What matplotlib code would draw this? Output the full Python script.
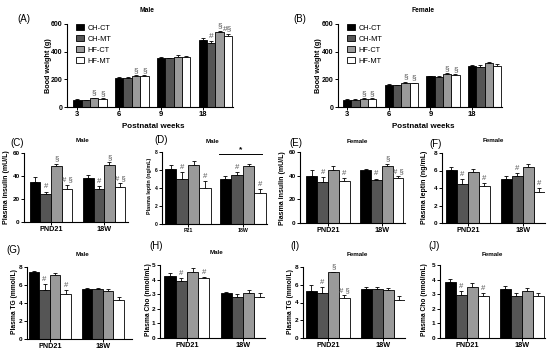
import numpy as np
import matplotlib
matplotlib.use('Agg')
import matplotlib.pyplot as plt
from matplotlib.patches import Patch

plt.rcParams['font.family'] = ['Liberation Sans', 'DejaVu Sans']
plt.rcParams['font.weight'] = 'bold'

W, H = 550, 352

groups = ['CH-CT', 'CH-MT', 'HF-CT', 'HF-MT']
colors = ['#000000', '#555555', '#9a9a9a', '#ffffff']
weeks = ['3', '6', '9', '18']
ages = ['PND21', '18W']
ages_d = ['P21', '18W']

# body weight, rows = groups, cols = weeks
bw_male = [[53, 212, 355, 484], [51, 210, 352, 466], [62, 222, 365, 540], [58, 225, 363, 512]]
bw_male_err = [[4, 5, 6, 12], [3, 4, 5, 11], [5, 7, 8, 12], [4, 5, 9, 18]]
bw_female = [[53, 162, 221, 297], [52, 157, 216, 292], [60, 176, 240, 320], [58, 171, 230, 296]]
bw_female_err = [[3, 4, 5, 9], [3, 5, 5, 10], [4, 6, 6, 8], [4, 5, 6, 12]]

# plasma values, rows = groups, cols = PND21 / 18W
ins_male = [[35, 38.5], [24.3, 28.7], [48.5, 49.2], [28.5, 30.5]]
ins_male_err = [[4, 2.5], [2.2, 2.5], [2.2, 2.8], [4, 3]]
lep_male = [[6.15, 5.0], [5.05, 5.4], [6.6, 6.4], [4.0, 3.5]]
lep_male_err = [[0.45, 0.35], [0.75, 0.35], [0.45, 0.3], [0.8, 0.4]]
ins_female = [[39.7, 44.5], [34.8, 36.3], [44.8, 47.8], [35.2, 38.3]]
ins_female_err = [[4.8, 1.5], [3.8, 1.3], [3, 2.2], [2.5, 1.4]]
lep_female = [[6.1, 5.0], [4.5, 5.4], [5.85, 6.4], [4.2, 3.5]]
lep_female_err = [[0.3, 0.35], [0.55, 0.35], [0.3, 0.3], [0.4, 0.45]]
tg_male = [[7.45, 5.55], [5.5, 5.55], [7.15, 5.35], [4.95, 4.33]]
tg_male_err = [[0.12, 0.15], [0.65, 0.15], [0.22, 0.25], [0.48, 0.3]]
cho_male = [[4.25, 3.05], [3.93, 2.82], [4.52, 3.07], [4.1, 2.8]]
cho_male_err = [[0.2, 0.12], [0.16, 0.22], [0.27, 0.22], [0.07, 0.25]]
tg_female = [[5.3, 5.55], [5.1, 5.55], [7.42, 5.37], [4.5, 4.32]]
tg_female_err = [[0.72, 0.2], [0.65, 0.25], [0.07, 0.27], [0.3, 0.36]]
cho_female = [[3.85, 3.33], [2.94, 2.88], [3.52, 3.2], [2.87, 2.87]]
cho_female_err = [[0.17, 0.23], [0.27, 0.18], [0.22, 0.2], [0.23, 0.18]]

# significance marks: (column, group index, symbol)
marks_a = [(0, 2, '§'), (0, 3, '§'), (1, 2, '§'), (1, 3, '§'), (3, 1, '#'), (3, 2, '§'), (3, 3, '#§')]
marks_b = [(0, 2, '§'), (0, 3, '§'), (1, 2, '§'), (1, 3, '§'), (2, 2, '§'), (2, 3, '§')]
marks_c = [(0, 1, '#'), (0, 2, '§'), (0, 3, '# §'), (1, 1, '#'), (1, 2, '§'), (1, 3, '# §')]
marks_d = [(0, 1, '#'), (0, 3, '#'), (1, 1, '#'), (1, 3, '#')]
marks_e = [(0, 1, '#'), (0, 3, '#'), (1, 1, '#'), (1, 2, '§'), (1, 3, '# §')]
marks_f = [(0, 1, '#'), (0, 3, '#'), (1, 1, '#'), (1, 3, '#')]
marks_g = [(0, 1, '#'), (0, 3, '#')]
marks_h = [(0, 1, '#'), (0, 3, '#')]
marks_i = [(0, 1, '#'), (0, 2, '§'), (0, 3, '# §')]
marks_j = [(0, 1, '#'), (0, 3, '#')]


def px_rect(x0, y0, x1, y1):
    return [x0 / W, 1 - y1 / H, (x1 - x0) / W, (y1 - y0) / H]


def fig_text(fig, x, y, s, **kw):
    fig.text(x / W, 1 - y / H, s, ha='center', va='center', **kw)


def bar_panel(ax, means, errs, marks, xlim, ylim, yticks, xlabels, width=0.2,
              tick_first=False, fs=4.6, xfs=5.2, mark_fs=5.6):
    means = np.array(means)
    errs = np.array(errs)
    x = np.arange(means.shape[1])
    for k in range(4):
        pos = x + (k - 1.5) * width
        ax.bar(pos, means[k], width, color=colors[k], edgecolor='black', linewidth=0.6, zorder=2)
        ax.errorbar(pos, means[k], yerr=[np.zeros(len(x)), errs[k]], fmt='none', ecolor='black',
                    elinewidth=0.6, capsize=1.3, capthick=0.6, zorder=1)
    for col, k, sym in marks:
        ax.annotate(sym, (col + (k - 1.5) * width, means[k, col] + errs[k, col]),
                    xytext=(0, 0.8), textcoords='offset points', ha='center', va='bottom',
                    fontsize=mark_fs, fontweight='normal', color='#555555')
    ax.set_xlim(*xlim)
    ax.set_ylim(*ylim)
    ax.set_yticks(yticks)
    ax.set_yticklabels([str(t) for t in yticks], fontsize=fs)
    ticks = x - 1.5 * width if tick_first else x
    ax.set_xticks(ticks)
    ax.set_xticklabels(xlabels, fontsize=xfs)
    for s in ['top', 'right']:
        ax.spines[s].set_visible(False)
    for s in ['left', 'bottom']:
        ax.spines[s].set_linewidth(0.8)
    ax.tick_params(length=2, width=0.7, pad=1.2)
    return means, errs


fig = plt.figure(figsize=(5.5, 3.52), dpi=100)

# (A) / (B) body weight
ax_a = fig.add_axes(px_rect(67, 24, 233, 107))
bar_panel(ax_a, bw_male, bw_male_err, marks_a, (-0.55, 3.42), (0, 600), [0, 200, 400, 600], weeks,
          tick_first=True, fs=5, xfs=5.5, mark_fs=6)
ax_b = fig.add_axes(px_rect(338, 24, 502, 107))
bar_panel(ax_b, bw_female, bw_female_err, marks_b, (-0.52, 3.42), (0, 600), [0, 200, 400, 600], weeks,
          tick_first=True, fs=5, xfs=5.5, mark_fs=6)
for ax in (ax_a, ax_b):
    handles = [Patch(facecolor=c, edgecolor='black', linewidth=0.6) for c in colors]
    ax.legend(handles, groups, loc='upper left', bbox_to_anchor=(0.03, 1.04), frameon=False,
              prop={'size': 5.3, 'weight': 'normal'}, handlelength=1.1, handleheight=0.9,
              handletextpad=0.5, labelspacing=0.45, borderpad=0)

fig_text(fig, 48, 66, 'Bood weight (g)', rotation=90, fontsize=5.2)
fig_text(fig, 318, 66, 'Bood weight (g)', rotation=90, fontsize=5.2)
fig_text(fig, 153, 126, 'Postnatal weeks', fontsize=5.8)
fig_text(fig, 423, 126, 'Postnatal weeks', fontsize=5.8)
fig_text(fig, 147, 10, 'Male', fontsize=4.8)
fig_text(fig, 423, 11, 'Female', fontsize=4.8)
fig_text(fig, 24, 19, '(A)', fontsize=7, fontweight='normal')
fig_text(fig, 300, 19, '(B)', fontsize=7, fontweight='normal')

# (C) - (F) insulin and leptin
ax_c = fig.add_axes(px_rect(24, 153, 128, 222))
bar_panel(ax_c, ins_male, ins_male_err, marks_c, (-0.51, 1.45), (0, 60), [0, 20, 40, 60], ages)
ax_d = fig.add_axes(px_rect(162, 152, 267, 224))
m_d, e_d = bar_panel(ax_d, lep_male, lep_male_err, marks_d, (-0.47, 1.44), (0, 8), [0, 2, 4, 6, 8], ages_d,
                     width=0.21, fs=3.6, xfs=3.8)
sig_y = (m_d + e_d).max() + 0.75
ax_d.plot([1 - 2.1 * 0.21, 1 + 1.7 * 0.21], [sig_y, sig_y], color='black', lw=0.7, clip_on=False)
ax_d.text(1 - 0.2 * 0.21, sig_y + 0.05, '*', ha='center', va='bottom', fontsize=6)
ax_e = fig.add_axes(px_rect(300, 152, 405, 223))
bar_panel(ax_e, ins_female, ins_female_err, marks_e, (-0.52, 1.43), (0, 60), [0, 20, 40, 60], ages)
ax_f = fig.add_axes(px_rect(442, 153, 545, 223))
bar_panel(ax_f, lep_female, lep_female_err, marks_f, (-0.47, 1.4), (0, 8), [0, 2, 4, 6, 8], ages)

fig_text(fig, 7, 187, 'Plasma insulin (mU/L)', rotation=90, fontsize=5)
fig_text(fig, 150, 186, 'Plasma leptin (ng/mL)', rotation=90, fontsize=3.9)
fig_text(fig, 283, 188, 'Plasma insulin (mU/L)', rotation=90, fontsize=5)
fig_text(fig, 425, 187, 'Plasma leptin (ng/mL)', rotation=90, fontsize=5)
fig_text(fig, 82, 140, 'Male', fontsize=4.5)
fig_text(fig, 213, 141, 'Male', fontsize=4.5)
fig_text(fig, 357, 141, 'Female', fontsize=4.5)
fig_text(fig, 493, 140, 'Female', fontsize=4.5)
fig_text(fig, 17, 143, '(C)', fontsize=7, fontweight='normal')
fig_text(fig, 161, 140, '(D)', fontsize=7, fontweight='normal')
fig_text(fig, 296, 143, '(E)', fontsize=7, fontweight='normal')
fig_text(fig, 436, 144, '(F)', fontsize=7, fontweight='normal')

# (G) - (J) TG and cholesterol
ax_g = fig.add_axes(px_rect(27, 267, 132, 339))
bar_panel(ax_g, tg_male, tg_male_err, marks_g, (-0.43, 1.55), (0, 8), [0, 2, 4, 6, 8], ages)
ax_h = fig.add_axes(px_rect(160, 265, 265, 338))
bar_panel(ax_h, cho_male, cho_male_err, marks_h, (-0.48, 1.39), (0, 5), [0, 1, 2, 3, 4, 5], ages)
ax_i = fig.add_axes(px_rect(303, 267, 405, 338))
bar_panel(ax_i, tg_female, tg_female_err, marks_i, (-0.45, 1.4), (0, 8), [0, 2, 4, 6, 8], ages)
ax_j = fig.add_axes(px_rect(440, 265, 545, 338))
bar_panel(ax_j, cho_female, cho_female_err, marks_j, (-0.49, 1.42), (0, 5), [0, 1, 2, 3, 4, 5], ages)

fig_text(fig, 15, 302, 'Plasma TG (mmol/L)', rotation=90, fontsize=4.8)
fig_text(fig, 148, 300, 'Plasma Cho (nmol/mL)', rotation=90, fontsize=4.8)
fig_text(fig, 290, 302, 'Plasma TG (mmol/L)', rotation=90, fontsize=4.8)
fig_text(fig, 425, 300, 'Plasma Cho (nmol/mL)', rotation=90, fontsize=4.8)
fig_text(fig, 83, 255, 'Male', fontsize=4.5)
fig_text(fig, 217, 253, 'Male', fontsize=4.5)
fig_text(fig, 357, 254, 'Female', fontsize=4.5)
fig_text(fig, 492, 254, 'Female', fontsize=4.5)
fig_text(fig, 13, 250, '(G)', fontsize=7, fontweight='normal')
fig_text(fig, 156, 246, '(H)', fontsize=7, fontweight='normal')
fig_text(fig, 295, 246, '(I)', fontsize=7, fontweight='normal')
fig_text(fig, 434, 246, '(J)', fontsize=7, fontweight='normal')

fig.savefig('out.png', dpi=100)
